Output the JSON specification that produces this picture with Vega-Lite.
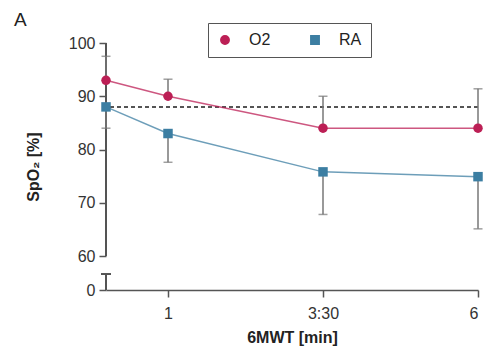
{
  "$schema": "https://vega.github.io/schema/vega-lite/v6.json",
  "width": 372,
  "height": 247,
  "autosize": "none",
  "padding": {"left": 106, "top": 43, "right": 9, "bottom": 69},
  "background": "white",
  "title": {"text": "A", "anchor": "start", "frame": "group", "dx": -92, "dy": 13, "offset": 6, "fontSize": 19, "fontWeight": "normal", "font": "Liberation Sans", "color": "#222"},
  "config": {
    "view": {"stroke": null},
    "font": "Liberation Sans",
    "axis": {"domainColor": "#555", "domainWidth": 1.5, "tickColor": "#555", "tickWidth": 1.5, "tickSize": 7, "labelFont": "Liberation Sans", "labelFontSize": 16, "labelColor": "#333", "titleFont": "Liberation Sans", "titleFontSize": 16, "titleFontWeight": "bold", "titleColor": "#222", "grid": false}
  },
  "data": {"values": [
    {"t": 0, "series": "O2", "mean": 93, "bound": 97.5},
    {"t": 1, "series": "O2", "mean": 90, "bound": 93.2},
    {"t": 3.5, "series": "O2", "mean": 84, "bound": 90},
    {"t": 6, "series": "O2", "mean": 84, "bound": 91.4},
    {"t": 0, "series": "RA", "mean": 88, "bound": 84},
    {"t": 1, "series": "RA", "mean": 83, "bound": 77.6},
    {"t": 3.5, "series": "RA", "mean": 75.8, "bound": 67.8},
    {"t": 6, "series": "RA", "mean": 74.9, "bound": 65.1}
  ]},
  "layer": [
    {
      "mark": {"type": "rule", "color": "#555", "strokeDash": [4, 3], "strokeWidth": 1.2},
      "encoding": {"y": {"datum": 88, "type": "quantitative", "title": "SpO₂ [%]"}}
    },
    {
      "mark": {"type": "rule", "color": "#555", "strokeWidth": 1.5},
      "encoding": {
        "x": {"datum": 0, "type": "quantitative", "title": "6MWT [min]"},
        "y": {"datum": 60, "type": "quantitative", "title": "SpO₂ [%]"},
        "y2": {"datum": 100}
      }
    },
    {
      "mark": {"type": "rule", "color": "#555", "strokeWidth": 1.5},
      "encoding": {
        "x": {"datum": 0, "type": "quantitative", "title": "6MWT [min]"},
        "y": {"datum": 0, "type": "quantitative", "title": "SpO₂ [%]"},
        "y2": {"datum": 28}
      }
    },
    {
      "mark": {"type": "tick", "orient": "horizontal", "color": "#555", "thickness": 1.5, "size": 10},
      "encoding": {
        "x": {"datum": 0, "type": "quantitative", "title": "6MWT [min]"},
        "y": {"datum": 28, "type": "quantitative", "title": "SpO₂ [%]"}
      }
    },
    {
      "mark": {"type": "rule", "color": "#777", "strokeWidth": 1.5},
      "encoding": {
        "x": {"field": "t", "type": "quantitative", "title": "6MWT [min]"},
        "y": {"field": "mean", "type": "quantitative", "title": "SpO₂ [%]"},
        "y2": {"field": "bound"}
      }
    },
    {
      "mark": {"type": "tick", "orient": "horizontal", "color": "#777", "thickness": 1.5, "size": 9},
      "encoding": {
        "x": {"field": "t", "type": "quantitative", "title": "6MWT [min]"},
        "y": {"field": "bound", "type": "quantitative", "title": "SpO₂ [%]"}
      }
    },
    {
      "mark": {"type": "line", "strokeWidth": 1.5, "opacity": 0.75},
      "encoding": {
        "x": {"field": "t", "type": "quantitative", "title": "6MWT [min]",
              "scale": {"domain": [0, 6], "nice": false, "zero": false},
              "axis": {"values": [1, 3.5, 6], "labelExpr": "datum.value == 3.5 ? '3:30' : format(datum.value, 'd')", "labelPadding": 8, "titlePadding": 8, "domain": true}},
        "y": {"field": "mean", "type": "quantitative", "title": "SpO₂ [%]",
              "scale": {"domain": [0, 60, 100], "range": [247, 213, 0], "nice": false, "zero": false},
              "axis": {"values": [0, 60, 70, 80, 90, 100], "domain": false, "labelPadding": 4, "titlePadding": 27}},
        "color": {"field": "series", "type": "nominal", "scale": {"domain": ["O2", "RA"], "range": ["#BC1F55", "#3C7EA2"]},
                  "legend": {"orient": "none", "legendX": 102, "legendY": -20, "direction": "horizontal", "title": null,
                             "strokeColor": "#555", "padding": 9, "labelFontSize": 16, "labelFont": "Liberation Sans", "labelColor": "#222",
                             "columnPadding": 36, "symbolSize": 70, "labelOffset": 16, "symbolOpacity": 1}}
      }
    },
    {
      "mark": {"type": "point", "filled": true, "opacity": 1},
      "encoding": {
        "x": {"field": "t", "type": "quantitative", "title": "6MWT [min]"},
        "y": {"field": "mean", "type": "quantitative", "title": "SpO₂ [%]"},
        "color": {"field": "series", "type": "nominal", "scale": {"domain": ["O2", "RA"], "range": ["#BC1F55", "#3C7EA2"]},
                  "legend": {"orient": "none", "legendX": 102, "legendY": -20, "direction": "horizontal", "title": null,
                             "strokeColor": "#555", "padding": 9, "labelFontSize": 16, "labelFont": "Liberation Sans", "labelColor": "#222",
                             "columnPadding": 36, "symbolSize": 70, "labelOffset": 16, "symbolOpacity": 1}},
        "shape": {"field": "series", "type": "nominal", "scale": {"domain": ["O2", "RA"], "range": ["circle", "square"]}, "legend": null},
        "size": {"value": 90}
      }
    }
  ]
}
